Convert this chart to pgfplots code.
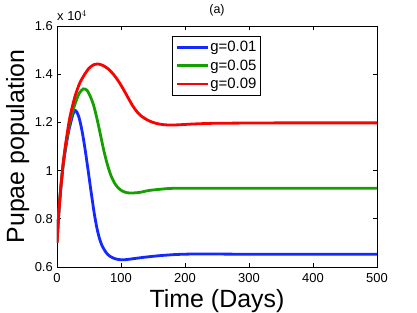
\documentclass[border=0pt]{standalone}
\usepackage{pgfplots}
\pgfplotsset{compat=1.18}
\usepackage{fontspec}
\setmainfont{Liberation Sans}
\definecolor{mblue}{RGB}{20,40,255}
\definecolor{mgreen}{RGB}{20,160,0}
\definecolor{mred}{RGB}{255,0,0}
\begin{document}
\begin{tikzpicture}
\begin{axis}[
  scale only axis,
  width=320bp, height=241bp,
  xmin=0, xmax=500, ymin=0.6, ymax=1.6,
  xtick={0,100,200,300,400,500},
  ytick={0.6,0.8,1,1.2,1.4,1.6},
  yticklabels={0.6,0.8,1,1.2,1.4,1.6},
  tick align=inside,
  major tick length=4bp,
  axis line style={line width=0.7bp},
  every tick/.style={line width=0.6bp,black},
  /pgf/number format/assume math mode=true,
  tick label style={font=\fontsize{13}{15}\selectfont},
  yticklabel style={inner sep=0pt, xshift=-4bp},
  xticklabel style={inner sep=0pt, yshift=-6bp},
  xlabel={Time (Days)},
  ylabel={Pupae population},
  label style={font=\fontsize{25}{28}\selectfont, inner sep=0pt},
  xlabel style={at={(axis description cs:0.5,-0.166)}, anchor=base},
  ylabel style={at={(axis description cs:-0.103,0.5)}, anchor=base},
  legend style={at={(axis description cs:0.36,0.959)}, anchor=north west,
    font=\fontsize{15}{17}\selectfont, draw=black, line width=0.6bp,
    cells={anchor=west}, inner xsep=3bp, inner ysep=4bp, row sep=4bp,
    nodes={inner xsep=1bp, inner ysep=1.2bp}},
  legend image code/.code={\draw[#1, line width=2.8bp] (0bp,0bp) -- (31bp,0bp);},
  clip mode=individual,
]
\addplot[mblue, line width=2.8bp, smooth, tension=0.4] coordinates {
(0,0.70) (2,0.79) (4,0.865) (7,0.955) (10,1.03) (14,1.10) (18,1.16) (22,1.205) (25,1.234) (28,1.25)
(31,1.243) (34,1.224) (37,1.192) (40,1.152) (43,1.104) (46,1.050) (49,0.994) (52,0.936) (55,0.880)
(58,0.826) (61,0.780) (64,0.742) (67,0.713) (70,0.691) (74,0.671) (78,0.656) (83,0.644) (89,0.636)
(96,0.631) (105,0.630) (115,0.633) (135,0.640) (160,0.647) (187,0.652) (220,0.654) (300,0.653)
(400,0.653) (500,0.653)};
\addlegendentry{g=0.01}
\addplot[mgreen, line width=2.8bp, smooth, tension=0.4] coordinates {
(0,0.70) (2,0.79) (4,0.87) (7,0.96) (10,1.035) (14,1.11) (20,1.20) (25,1.25) (30,1.29) (35,1.322)
(41,1.339) (47,1.333) (53,1.302) (57,1.273) (61,1.232) (65,1.185) (69,1.135) (73,1.085) (77,1.042)
(81,1.005) (85,0.975) (90,0.948) (96,0.927) (103,0.914) (110,0.908) (118,0.907) (130,0.910)
(145,0.918) (176,0.926) (200,0.927) (300,0.927) (400,0.927) (500,0.927)};
\addlegendentry{g=0.05}
\addplot[mred, line width=2.8bp, smooth, tension=0.4] coordinates {
(0,0.70) (2,0.79) (4,0.87) (7,0.96) (10,1.04) (14,1.12) (20,1.22) (28,1.307) (35,1.36) (41,1.39)
(50,1.425) (58,1.440) (65,1.442) (72,1.436) (80,1.422) (88,1.400) (95,1.375) (101,1.350) (107,1.322)
(113,1.293) (119,1.266) (125,1.244) (131,1.228) (138,1.215) (146,1.204) (155,1.196) (165,1.191)
(177,1.189) (190,1.190) (210,1.193) (240,1.196) (280,1.197) (350,1.198) (500,1.198)};
\addlegendentry{g=0.09}
\node[anchor=base, inner sep=0pt, font=\fontsize{12.5}{14}\selectfont] at (axis description cs:0.5,1.05) {(a)};
\node[anchor=base west, inner sep=0pt, font=\fontsize{13}{15}\selectfont] at (axis description cs:0,1.021) {x 10$^{4}$};
\end{axis}
\pgfresetboundingbox
\path[use as bounding box] (-57bp,-46bp) rectangle (360bp,267bp);
\end{tikzpicture}
\end{document}
